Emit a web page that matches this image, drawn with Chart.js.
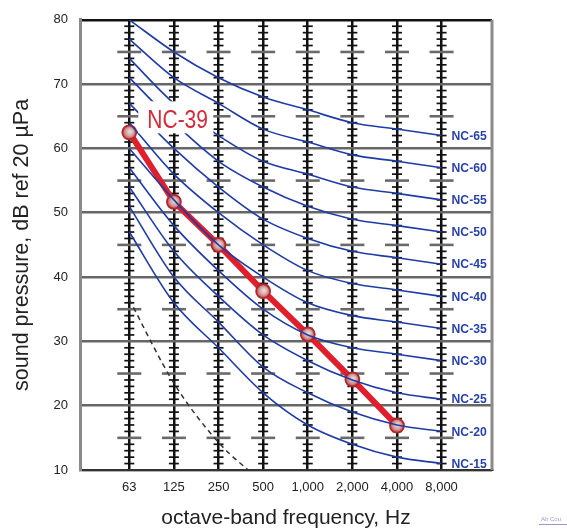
<!DOCTYPE html>
<html lang="en">
<head>
<meta charset="UTF-8">
<title>NC curves</title>
<style>
  html, body { margin: 0; padding: 0; background: #fff; }
  #wrap { width: 567px; height: 532px; }
</style>
</head>
<body>
<div id="wrap"><canvas id="ncChart" width="567" height="532"></canvas></div>
<script src="https://cdn.jsdelivr.net/npm/chart.js@4/dist/chart.umd.min.js"></script>
<script>
// octave band centres
const freqLabels = ['63', '125', '250', '500', '1,000', '2,000', '4,000', '8,000'];

// NC reference curves, dB per octave band
const nc15 = [47, 36, 29, 22, 17, 14, 12, 11];
const nc20 = [51, 40, 33, 26, 22, 19, 17, 16];
const nc25 = [54, 44, 37, 31, 27, 24, 22, 21];
const nc30 = [57, 48, 41, 35, 31, 29, 28, 27];
const nc35 = [60, 52, 45, 40, 36, 34, 33, 32];
const nc40 = [64, 56, 50, 45, 41, 39, 38, 37];
const nc45 = [67, 60, 54, 49, 46, 44, 43, 42];
const nc50 = [71, 64, 58, 54, 51, 49, 48, 47];
const nc55 = [74, 67, 62, 58, 56, 54, 53, 52];
const nc60 = [77, 71, 67, 63, 61, 59, 58, 57];
const nc65 = [80, 75, 71, 68, 66, 64, 63, 62];
const ncNames = ['NC-15', 'NC-20', 'NC-25', 'NC-30', 'NC-35', 'NC-40', 'NC-45', 'NC-50', 'NC-55', 'NC-60', 'NC-65'];

// measured spectrum (63 .. 4000 Hz)
const measured = [62.5, 51.7, 45.0, 37.8, 31.1, 24.1, 16.9];
const measuredName = 'NC-39';

// threshold of hearing (dashed), runs off the bottom after 250 Hz
const threshold = [36.5, 23.5, 14.3, 8];

const yTicks = [10, 20, 30, 40, 50, 60, 70, 80];

const ncCurves = [nc15, nc20, nc25, nc30, nc35, nc40, nc45, nc50, nc55, nc60, nc65];
const toXY = arr => arr.map((v, i) => ({x: i, y: v}));

const blue = '#1f3ca6';

var datasets = ncCurves.map((arr, k) => ({
    label: ncNames[k],
    data: toXY(arr),
    borderColor: blue,
    borderWidth: 1.6,
    pointRadius: 0,
    cubicInterpolationMode: 'monotone',
    fill: false
}));

datasets.push({
    label: 'threshold',
    data: toXY(threshold),
    borderColor: '#333',
    borderWidth: 1.5,
    borderDash: [5, 4],
    pointRadius: 0,
    cubicInterpolationMode: 'monotone',
    fill: false
});

datasets.push({
    label: measuredName,
    data: toXY(measured),
    borderColor: '#e01f2d',
    borderWidth: 6,
    tension: 0,
    pointRadius: 7,
    pointBorderWidth: 1.8,
    pointBorderColor: '#b3262c',
    pointBackgroundColor: function(c) {
        var flat = '#d8a4a4';
        if (!c.parsed || !c.chart.scales.x) return flat;
        var px = c.chart.scales.x.getPixelForValue(c.parsed.x);
        var py = c.chart.scales.y.getPixelForValue(c.parsed.y);
        if (!isFinite(px) || !isFinite(py)) return flat;
        var g = c.chart.ctx.createRadialGradient(px + 1, py - 1, 0, px, py, 7);
        g.addColorStop(0, '#ece2e2');
        g.addColorStop(0.55, '#d8a4a4');
        g.addColorStop(1, '#b44a4a');
        return g;
    },
    fill: false
});

// narrow-looking text: squeeze horizontally
function narrowText(ctx, text, x, y, sx) {
    ctx.save();
    ctx.translate(x, y);
    ctx.scale(sx, 1);
    ctx.fillText(text, 0, 0);
    ctx.restore();
}

// ladder marks on every band line + right frame + labels
var ladder = {
    id: 'ladder',
    beforeDatasetsDraw(chart) {
        var ctx = chart.ctx, x = chart.scales.x, y = chart.scales.y;
        ctx.save();
        freqLabels.forEach(function(f, i) {
            var px = x.getPixelForValue(i);
            for (var db = 11; db < 80; db++) {
                if (db % 10 === 0) continue;
                var py = y.getPixelForValue(db);
                var major = db % 5 === 0;
                ctx.strokeStyle = major ? '#6a6a6a' : '#111';
                ctx.lineWidth = major ? 2.6 : 1.7;
                var half = major ? 12 : 5;
                ctx.beginPath();
                ctx.moveTo(px - half, py);
                ctx.lineTo(px + half, py);
                ctx.stroke();
            }
        });
        var a = chart.chartArea;
        ctx.strokeStyle = '#8a8a8a';
        ctx.lineWidth = 3;
        ctx.beginPath();
        ctx.moveTo(a.right, a.top);
        ctx.lineTo(a.right, a.bottom);
        ctx.stroke();
        ctx.restore();
    },
    afterDatasetsDraw(chart) {
        var ctx = chart.ctx, x = chart.scales.x, y = chart.scales.y;
        ctx.save();
        // curve names at the right
        ctx.font = 'bold 13.5px "Liberation Sans", Arial, sans-serif';
        ctx.fillStyle = '#2743a8';
        ctx.textAlign = 'left';
        ctx.textBaseline = 'middle';
        var lx = x.getPixelForValue(freqLabels.length - 1) + 10;
        ncCurves.forEach(function(arr, k) {
            narrowText(ctx, ncNames[k], lx, y.getPixelForValue(arr[arr.length - 1]) + 0.5, 0.9);
        });
        // rating label with white patch
        var px = x.getPixelForValue(0), py = y.getPixelForValue(measured[0]);
        ctx.fillStyle = '#fff';
        ctx.fillRect(px + 9, py - 31, 75, 32);
        ctx.font = '25px "Liberation Sans", Arial, sans-serif';
        ctx.fillStyle = '#d42a3a';
        narrowText(ctx, measuredName, px + 18, py - 11, 0.84);
        ctx.restore();
    },
    afterDraw(chart) {
        var ctx = chart.ctx;
        ctx.save();
        ctx.font = '6px "Liberation Sans", sans-serif';
        ctx.fillStyle = '#9a9ad0';
        ctx.fillText('Ab Cou', 541, 521);
        ctx.fillRect(539, 524, 28, 1);
        ctx.restore();
    }
};

new Chart(document.getElementById('ncChart'), {
    type: 'line',
    data: {datasets: datasets},
    options: {
        responsive: false,
        animation: false,
        events: [],
        layout: {padding: {top: 18, right: 75, left: 0, bottom: 0}},
        plugins: {legend: {display: false}, tooltip: {enabled: false}},
        scales: {
            x: {
                type: 'linear',
                min: -1.105,
                max: 8.13,
                afterBuildTicks: function(s) { s.ticks = freqLabels.map((f, i) => ({value: i})); },
                afterFit: function(s) { s.height = 62; },
                ticks: {
                    callback: function(v) { return freqLabels[v]; },
                    font: {family: '"Liberation Sans", Arial, sans-serif', size: 13},
                    color: '#222',
                    padding: 10,
                    maxRotation: 0,
                    autoSkip: false
                },
                grid: {color: '#111', lineWidth: 2.5, drawTicks: false},
                border: {display: true, color: '#333', width: 2},
                title: {
                    display: true,
                    text: 'octave-band frequency, Hz',
                    font: {family: '"Liberation Sans", Arial, sans-serif', size: 21, lineHeight: 1.2},
                    color: '#222',
                    padding: {top: 0, bottom: 1}
                }
            },
            y: {
                min: 10,
                max: 80,
                afterBuildTicks: function(s) { s.ticks = yTicks.map(v => ({value: v})); },
                afterFit: function(s) { s.width = 80; },
                ticks: {
                    font: {family: '"Liberation Sans", Arial, sans-serif', size: 13},
                    color: '#222',
                    padding: 12
                },
                grid: {
                    color: function(c) { return c.tick && c.tick.value === 80 ? '#111' : '#666'; },
                    lineWidth: 2.5,
                    drawTicks: false
                },
                border: {display: true, color: '#8a8a8a', width: 3},
                title: {
                    display: true,
                    text: 'sound pressure, dB ref 20 µPa',
                    font: {family: '"Liberation Sans", Arial, sans-serif', size: 21.5, lineHeight: 1.2},
                    color: '#222',
                    padding: {top: 9, bottom: 0}
                }
            }
        }
    },
    plugins: [ladder]
});
</script>
</body>
</html>
